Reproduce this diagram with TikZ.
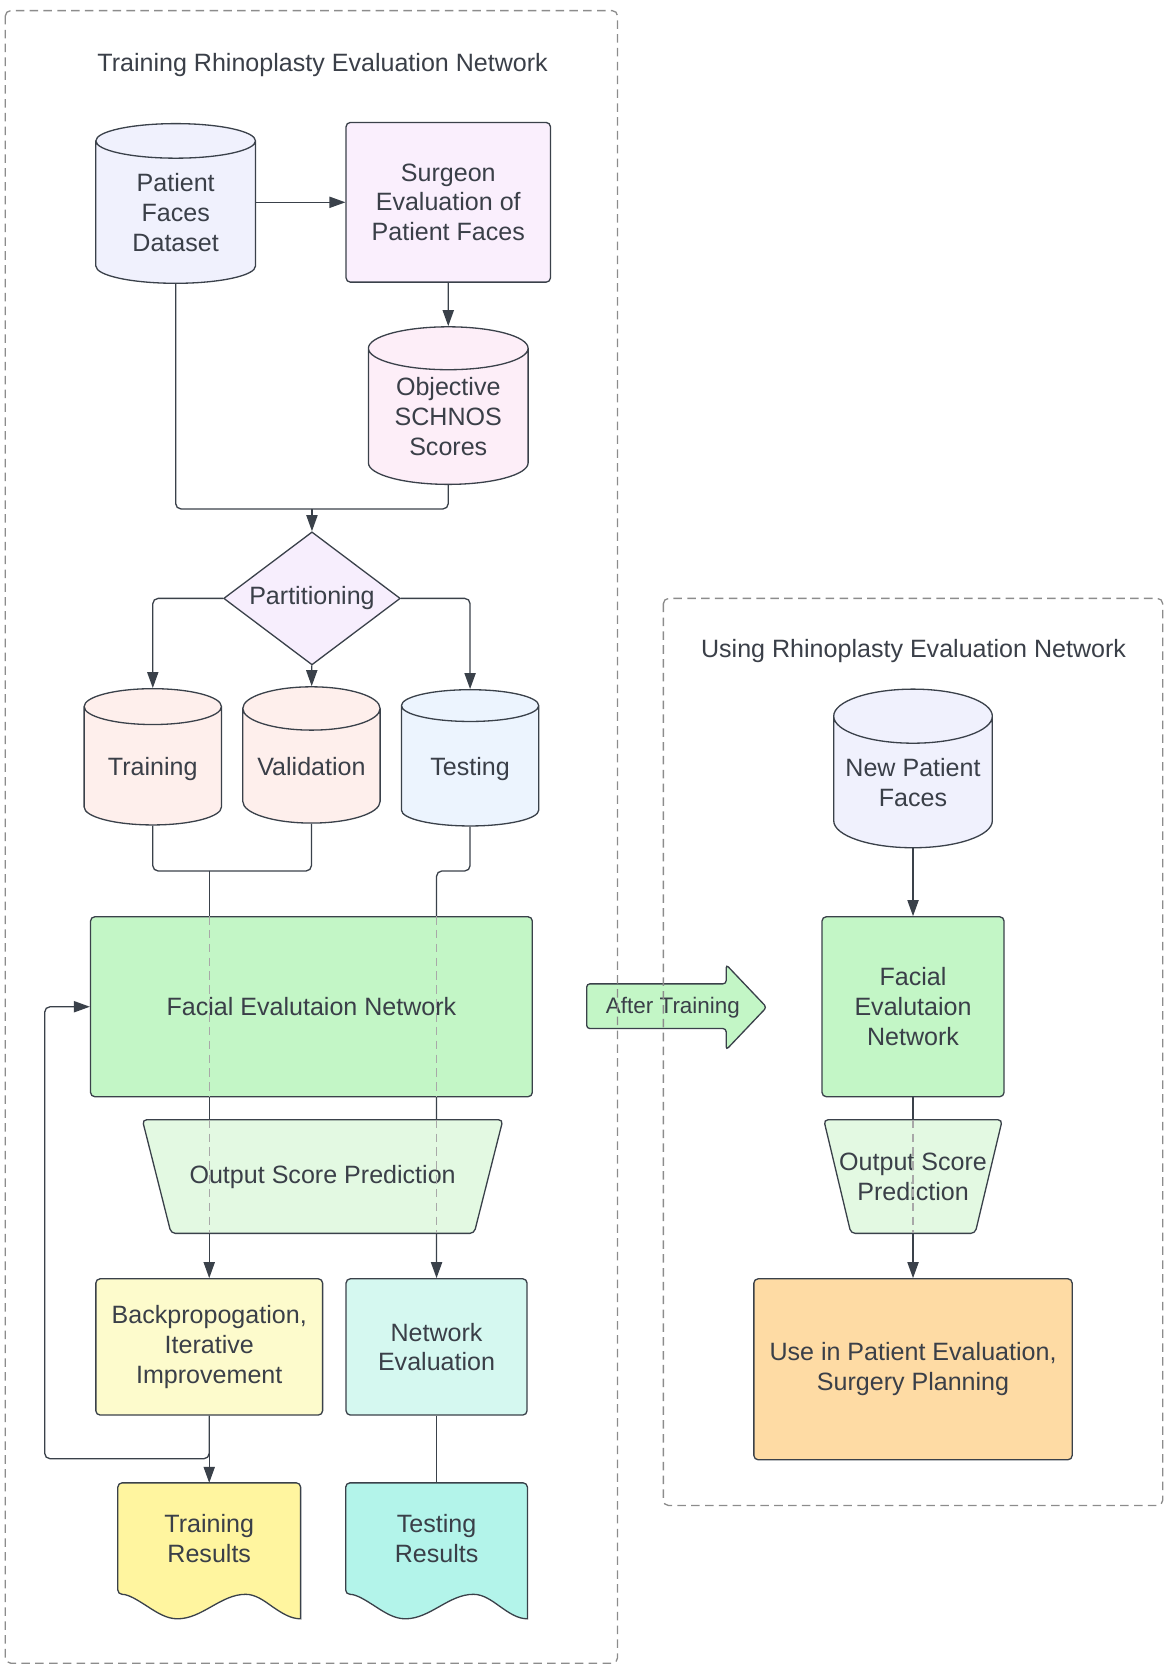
\documentclass[tikz,border=0pt]{standalone}
\usepackage{fontspec}
\setmainfont{Liberation Sans}
\usetikzlibrary{shapes.geometric,arrows.meta,calc}
\pgfdeclarelayer{background}
\pgfdeclarelayer{mid}
\pgfsetlayers{background,mid,main}

\definecolor{linecol}{HTML}{3A414A}
\definecolor{txtcol}{HTML}{3A3F48}
\definecolor{hidcol}{HTML}{A8A8A8}
\definecolor{framecol}{HTML}{8C8C8C}
\definecolor{pfdfill}{HTML}{F0F1FD}
\definecolor{surgfill}{HTML}{FAEFFD}
\definecolor{schnosfill}{HTML}{FDEEF8}
\definecolor{partfill}{HTML}{F7EEFD}
\definecolor{trnfill}{HTML}{FEEFEC}
\definecolor{tstfill}{HTML}{ECF4FE}
\definecolor{fenfill}{HTML}{C3F6C6}
\definecolor{ospfill}{HTML}{E3F9E2}
\definecolor{bpfill}{HTML}{FDFBCC}
\definecolor{nevalfill}{HTML}{D5F8F0}
\definecolor{trresfill}{HTML}{FFF59F}
\definecolor{tsresfill}{HTML}{B3F4EA}
\definecolor{usefill}{HTML}{FEDBA4}

\tikzset{
  txt/.style={text=txtcol, align=center, font=\fontsize{13.4}{15.9}\selectfont, inner sep=0pt},
  outline/.style={draw=linecol, line width=0.7pt},
  box/.style={txt, outline, rectangle, rounded corners=0.08cm},
  db/.style={txt, outline, cylinder, shape border rotate=90, aspect=0.4, minimum width=3cm, minimum height=3cm},
  oneline/.style={text height=0.34cm, text depth=0cm},
  decide/.style={txt, outline, diamond, aspect=1.33, minimum width=3.32cm, minimum height=2.5cm},
  conn/.style={draw=linecol, line width=0.7pt, rounded corners=0.1cm, -{Triangle[length=3mm,width=2.1mm]}},
  plain/.style={conn, -},
  hid/.style={draw=hidcol, line width=0.7pt, dash pattern=on 1.6mm off 1mm},
  panel/.style={draw=framecol, line width=0.7pt, dash pattern=on 1.6mm off 1mm, rounded corners=0.1cm},
}

% document shape with a wavy bottom
\newcommand{\docshape}[2]{%
  \draw[outline, fill=#2] ($(#1.south east)+(0,23)$) [rounded corners=0.08cm] -- (#1.north east) -- (#1.north west) -- (#1.south west) [sharp corners]
    cos ($(#1.south west)+(28,11.5)$) sin ($(#1.south west)+(56,23)$)
    cos ($(#1.south west)+(88,11.5)$) sin ($(#1.south west)+(120,0)$)
    cos ($(#1.south west)+(145,11.5)$) sin ($(#1.south east)+(0,23)$) -- cycle;
}
% upside down trapezoid round a text node
\newcommand{\trapshape}[3]{%
  \draw[outline, fill=#3, rounded corners=0.08cm] (#1.north west) -- (#1.north east) -- ($(#1.south east)+(-#2,0)$) -- ($(#1.south west)+(#2,0)$) -- cycle;
}

\begin{document}
\begin{tikzpicture}[x=0.02cm, y=-0.02cm]
\useasboundingbox (0,0) rectangle (1097,1567.5);

% training part
\node[txt] (ttl1) at (303,61) {Training Rhinoplasty Evaluation Network};
\node[db, fill=pfdfill] (pfd) at (165,199.5) {Patient\\Faces\\Dataset};
\node[box, fill=surgfill, minimum width=3.84cm, minimum height=3cm] (surg) at (421,190) {Surgeon\\Evaluation of\\Patient Faces};
\node[db, fill=schnosfill, minimum height=2.96cm] (schnos) at (421,391.3) {Objective\\SCHNOS\\Scores};
\node[decide, fill=partfill] (part) at (293,562) {Partitioning};
\node[db, oneline, fill=trnfill, minimum width=2.58cm, minimum height=2.56cm] (trn) at (143.5,719.5) {Training};
\node[db, oneline, fill=trnfill, minimum width=2.58cm, minimum height=2.56cm] (val) at (292.5,719.5) {Validation};
\node[db, oneline, fill=tstfill, minimum width=2.58cm, minimum height=2.56cm] (tst) at (441.5,719.5) {Testing};
\node[box, fill=fenfill, minimum width=8.3cm, minimum height=3.38cm] (fen) at (292.5,945.5) {Facial Evalutaion Network};
\node[txt, minimum width=6.76cm, minimum height=2.12cm] (osp) at (303,1105) {Output Score Prediction};
\node[box, fill=bpfill, minimum width=4.26cm, minimum height=2.56cm] (bp) at (196.5,1265) {Backpropogation,\\Iterative\\Improvement};
\node[box, fill=nevalfill, minimum width=3.4cm, minimum height=2.56cm] (neval) at (410,1265) {Network\\Evaluation};
\node[txt, minimum width=3.42cm, minimum height=2.08cm] (trres) at (196.5,1445) {Training\\Results};
\node[txt, minimum width=3.4cm, minimum height=2.08cm] (tsres) at (410,1445) {Testing\\Results};

% after training arrow
\draw[outline, fill=fenfill, rounded corners=0.06cm] (551,924) -- (682,924) -- (682,906) -- (720,946) -- (682,986) -- (682,966) -- (551,966) -- cycle;
\node[txt, font=\fontsize{12}{14}\selectfont] (aft) at (632,946) {After Training};

% using part
\node[txt] (ttl2) at (858,611) {Using Rhinoplasty Evaluation Network};
\node[db, fill=pfdfill, minimum width=2.98cm, minimum height=2.98cm] (npf) at (857.5,734.7) {New Patient\\Faces};
\node[box, fill=fenfill, minimum width=3.42cm, minimum height=3.38cm] (fen2) at (857.5,945.5) {Facial\\Evalutaion\\Network};
\node[txt, minimum width=3.34cm, minimum height=2.12cm] (osp2) at (857.5,1105) {Output Score\\Prediction};
\node[box, fill=usefill, minimum width=5.98cm, minimum height=3.4cm] (use) at (857.5,1286) {Use in Patient Evaluation,\\Surgery Planning};

\coordinate (jn1) at (293,478);
\coordinate (jn2) at (196.5,818);
\coordinate (jn3) at (410,818);
\coordinate (lp) at (42,1370);

\begin{pgfonlayer}{mid}
\trapshape{osp}{27}{ospfill}
\trapshape{osp2}{25.5}{ospfill}
\end{pgfonlayer}

\begin{pgfonlayer}{background}
\docshape{trres}{trresfill}
\docshape{tsres}{tsresfill}
\draw[conn] (surg -| pfd) -- (surg);
\draw[conn] (surg) -- (schnos);
\draw[plain] (pfd) |- (jn1);
\draw[plain] (schnos) |- (jn1);
\draw[conn] (jn1) -- (part);
\draw[conn] (part.west) -| (trn);
\draw[conn] (part) -- (val);
\draw[conn] (part.east) -| (tst);
\draw[plain] (trn) |- (jn2);
\draw[plain] (val) |- (jn2);
\draw[conn] (jn2) -- (bp);
\draw[conn] (tst) |- (jn3) -- (neval);
\draw[conn] (bp) -- (trres);
\draw[conn] (bp.south) |- (lp) |- (fen.west);
\draw[plain] (neval) -- (tsres);
\draw[conn] (npf) -- (fen2);
\draw[conn] (fen2) -- (use);
\end{pgfonlayer}

% lines seen through the boxes
\draw[hid] (fen.north -| jn2) -- (fen.south -| jn2);
\draw[hid] (osp.north -| jn2) -- (osp.south -| jn2);
\draw[hid] (fen.north -| jn3) -- (fen.south -| jn3);
\draw[hid] (osp.north -| jn3) -- (osp.south -| jn3);
\draw[hid] (osp2.north) -- (osp2.south);

% frames
\draw[panel] (5,10) rectangle (580,1562);
\draw[panel] (623,562) rectangle (1092,1414);
\end{tikzpicture}
\end{document}
